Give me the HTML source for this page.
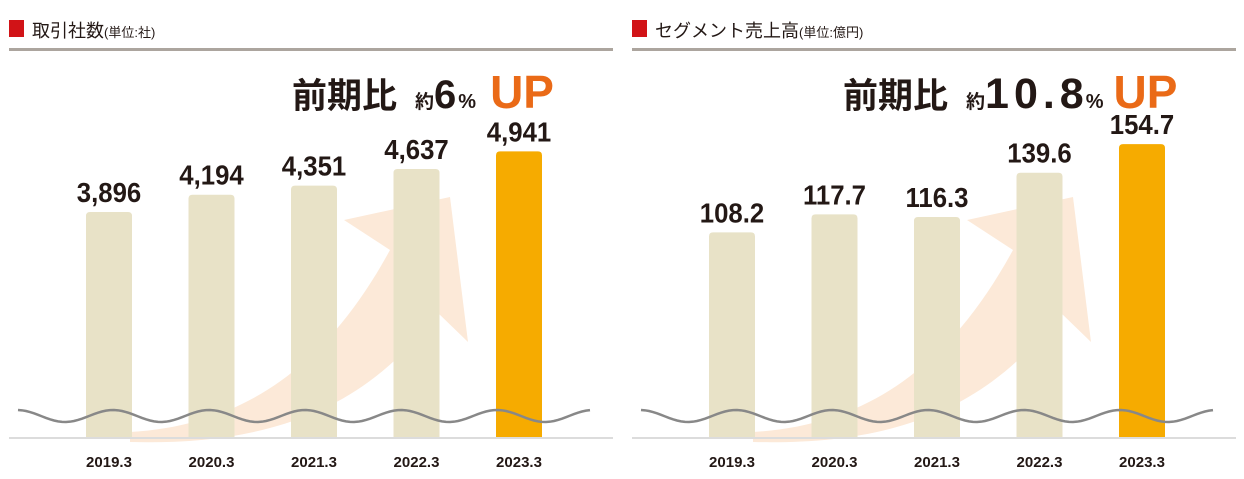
<!DOCTYPE html>
<html><head><meta charset="utf-8"><style>
body{margin:0;background:#fff;width:1244px;height:474px;overflow:hidden;font-family:"Liberation Sans","Noto Sans CJK JP",sans-serif}
svg text{font-family:"Liberation Sans","Noto Sans CJK JP",sans-serif}
</style></head><body>
<svg id="c" width="1244" height="474" xmlns="http://www.w3.org/2000/svg"></svg>
<script>
const categories=["2019.3","2020.3","2021.3","2022.3","2023.3"];
const clientValues=[3896,4194,4351,4637,4941];
const clientLabels=["3,896","4,194","4,351","4,637","4,941"];
const segValues=[108.2,117.7,116.3,139.6,154.7];
const segLabels=["108.2","117.7","116.3","139.6","154.7"];
const NS="http://www.w3.org/2000/svg";
const svg=document.getElementById('c');
function mk(tag,attrs,parent){const e=document.createElementNS(NS,tag);for(const k in attrs)e.setAttribute(k,attrs[k]);(parent||svg).appendChild(e);return e;}
function panel(ox,title,unit,values,labels,scale,pct,pctX,name,ls,upDx,numSize){
  const g=mk('g',{});
  
  
  const sq=mk('rect',{x:ox+9,y:20,width:15,height:17,fill:'#d11317'},g);
  
  const t=mk('text',{x:ox+32,y:37,'font-size':18,fill:'#231815'},g);
  
  t.innerHTML=title+'<tspan font-size="13">'+unit+'</tspan>';
  mk('rect',{x:ox+9,y:48,width:604,height:3,fill:'#aca59e'},g);
  const ar=mk('path',{d:`M${ox+130},432 C${ox+250},425 ${ox+330},360 ${ox+390},250 L${ox+344},220 L${ox+450},197 L${ox+468},342 L${ox+437},312 C${ox+360},420 ${ox+250},445 ${ox+130},442 Z`,fill:'#fce9d8'},g);
  
  const base=438;
  values.forEach((v,i)=>{
    const cx=ox+109+i*102.5, h=v*scale, top=base-h;
    const b=mk('path',{d:`M${cx-23},${base} L${cx-23},${top+4} Q${cx-23},${top} ${cx-19},${top} L${cx+19},${top} Q${cx+23},${top} ${cx+23},${top+4} L${cx+23},${base} Z`,fill:i==4?'#f6ab00':'#e8e2c7'},g);
    
    const vl=mk('text',{x:cx,y:top-10,'font-size':28,'font-weight':'bold','text-anchor':'middle',fill:'#231815',transform:`translate(${cx},0) scale(0.92,1) translate(${-cx},0)`},g);
    vl.textContent=labels[i];
    
    const cl=mk('text',{x:cx,y:467,'font-size':15,'font-weight':'bold','text-anchor':'middle',fill:'#231815'},g);
    cl.textContent=categories[i];
    
  });
  let d='';
  for(let x=0;x<=574;x+=4){d+=(x?' L':'M')+`${ox+18+x},${416-6*Math.sin((x+25)/96*2*Math.PI)}`;}
  const w=mk('path',{d:d,fill:'none',stroke:'#888','stroke-width':2.5},g);
  
  const ax=mk('rect',{x:ox+9,y:437,width:604,height:2,fill:'#dcdcdc'},g);
  
  const hl=mk('text',{x:pctX,y:108,fill:'#231815','font-weight':'bold'},g);
  
  hl.innerHTML='<tspan font-size="35">前期比</tspan><tspan font-size="19" dx="18">約</tspan><tspan font-size="'+numSize+'" letter-spacing="'+ls+'">'+pct+'</tspan><tspan font-size="20" dx="'+(2-ls)+'">%</tspan><tspan font-size="46" fill="#ea6a17" dx="'+upDx+'">UP</tspan>';
}
panel(0,'取引社数','(単位:社)',clientValues,clientLabels,0.058,'6',292,'client-count-chart',0,14,40);
panel(623,'セグメント売上高','(単位:億円)',segValues,segLabels,1.9,'10.8',843,'segment-sales-chart',5,10,43);
</script>
</body></html>
